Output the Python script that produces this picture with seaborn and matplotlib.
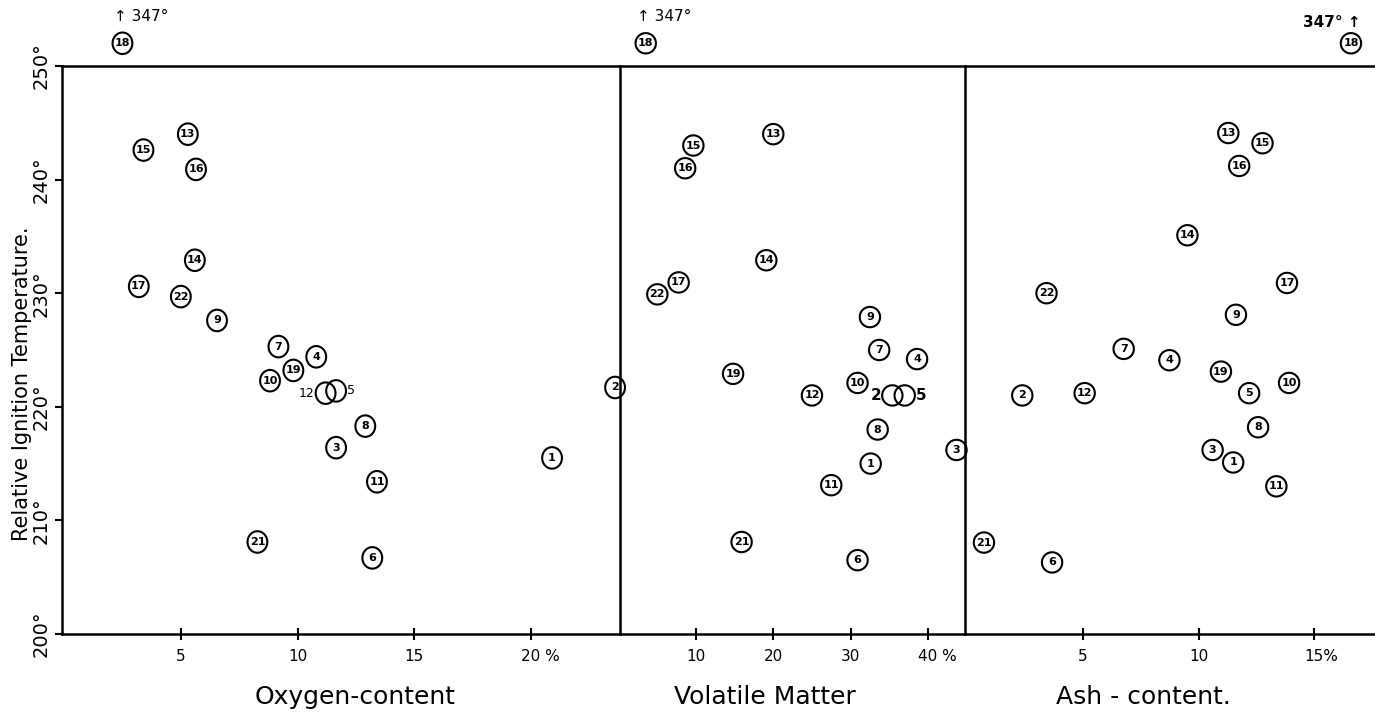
import numpy as np
import pandas as pd
import matplotlib
matplotlib.use("Agg")
import matplotlib.pyplot as plt
import matplotlib.transforms as mtransforms
import seaborn as sns

# ---------------- data ----------------
coal = [1, 2, 3, 4, 5, 6, 7, 8, 9, 10, 11, 12, 13, 14, 15, 16, 17, 18, 19, 21, 22]

oxygen = [20.9, 23.6, 11.65, 10.8, 11.65, 13.2, 9.18, 12.9, 6.55, 8.82, 13.4,
          11.2, 5.3, 5.6, 3.4, 5.65, 3.2, 2.5, 9.82, 8.28, 5.0]
temp_oxygen = [215.5, 221.7, 216.4, 224.4, 221.4, 206.7, 225.3, 218.3, 227.6, 222.3, 213.4,
               221.2, 244.0, 232.9, 242.6, 240.9, 230.6, 347, 223.2, 208.1, 229.7]

volatile = [32.6, 35.4, 43.7, 38.6, 37.0, 30.9, 33.7, 33.5, 32.5, 30.9, 27.5,
            25.0, 20.0, 19.1, 9.66, 8.6, 7.76, 3.5, 14.8, 15.9, 5.0]
temp_volatile = [215.0, 221.0, 216.2, 224.2, 221.0, 206.5, 225.0, 218.0, 227.9, 222.1, 213.1,
                 221.0, 244.0, 232.9, 243.0, 241.0, 230.95, 347, 222.9, 208.1, 229.9]

ash = [11.5, 2.37, 10.61, 8.74, 12.19, 3.66, 6.76, 12.58, 11.62, 13.92, 13.37,
       5.07, 11.29, 9.52, 12.77, 11.76, 13.83, 16.6, 10.97, 0.71, 3.42]
temp_ash = [215.1, 221.0, 216.2, 224.1, 221.2, 206.3, 225.1, 218.2, 228.1, 222.1, 213.0,
            221.2, 244.1, 235.1, 243.2, 241.2, 230.9, 347, 223.1, 208.05, 230.0]

y_ticks = [200, 210, 220, 230, 240, 250]
y_ticklabels = ["200°", "210°", "220°", "230°", "240°", "250°"]
oxygen_ticks = [5, 10, 15, 20]
oxygen_ticklabels = ["5", "10", "15", "20 %"]
volatile_ticks = [10, 20, 30, 40]
volatile_ticklabels = ["10", "20", "30", "40 %"]
ash_ticks = [5, 10, 15]
ash_ticklabels = ["5", "10", "15%"]
panel_titles = ["Oxygen-content", "Volatile Matter", "Ash - content."]
y_title = "Relative Ignition Temperature."

# ---------------- layout / style ----------------
W, H = 1375, 712
Y_TOP, Y_BOT = 66, 634
YLIM = (200, 250)
OFFSCALE_Y = 252.0          # where off-scale (>250) points are drawn
LW = 1.8

sns.set_style("white")
plt.rcParams["font.family"] = ["DejaVu Sans"]
plt.rcParams["axes.edgecolor"] = "black"
plt.rcParams["text.color"] = "black"
plt.rcParams["xtick.color"] = "black"
plt.rcParams["ytick.color"] = "black"
plt.rcParams["axes.labelcolor"] = "black"

fig = plt.figure(figsize=(W / 100, H / 100), dpi=100)


def rect(x0, x1):
    return [x0 / W, 1 - Y_BOT / H, (x1 - x0) / W, (Y_BOT - Y_TOP) / H]


def ellipse_marker(aspect):
    th = np.linspace(0, 2 * np.pi, 73)
    return np.column_stack([aspect * np.cos(th), np.sin(th)])


panels = [
    dict(x=oxygen, t=temp_oxygen, ticks=oxygen_ticks, labels=oxygen_ticklabels,
         rect=rect(62, 620), xlim=(-0.09, 23.81), aspect=0.92, s=240,
         outside={12: ("left", 9, "normal"), 5: ("right", 9, "normal")},
         off="left", title_x=355, left=True, right=True),
    dict(x=volatile, t=temp_volatile, ticks=volatile_ticks, labels=volatile_ticklabels,
         rect=rect(620, 965), xlim=(0.17, 44.8), aspect=1.0, s=215,
         outside={2: ("left", 11, "bold"), 5: ("right", 11, "bold")},
         off="left", title_x=765, left=False, right=True),
    dict(x=ash, t=temp_ash, ticks=ash_ticks, labels=ash_ticklabels,
         rect=rect(965, 1375), xlim=(-0.11, 17.64), aspect=1.0, s=215,
         outside={}, off="right", title_x=1143, left=False, right=False),
]

for i, p in enumerate(panels):
    ax = fig.add_axes(p["rect"])
    df = pd.DataFrame({"coal": coal, "x": p["x"], "temp": p["t"]})
    df["y"] = df["temp"].where(df["temp"] <= YLIM[1], OFFSCALE_Y)

    sns.scatterplot(data=df, x="x", y="y", ax=ax, marker=ellipse_marker(p["aspect"]),
                    s=p["s"], facecolor="none", edgecolor="black", linewidth=1.5,
                    clip_on=False, zorder=3, legend=False)

    for _, r in df.iterrows():
        c = int(r["coal"])
        if c in p["outside"]:
            side, fs, fw = p["outside"][c]
            dx = -8 if side == "left" else 8
            ax.annotate(str(c), xy=(r["x"], r["y"]), xytext=(dx, 0),
                        textcoords="offset points", ha="right" if side == "left" else "left",
                        va="center", fontsize=fs, fontweight=fw, annotation_clip=False)
        else:
            ax.text(r["x"], r["y"], str(c), ha="center", va="center", fontsize=8,
                    fontweight="bold", clip_on=False, zorder=4)
        if r["temp"] > YLIM[1]:
            if p["off"] == "left":
                ax.annotate(f"\u2191 {r['temp']:.0f}°", xy=(r["x"], r["y"]), xytext=(-6, 19),
                            textcoords="offset points", ha="left", va="center",
                            fontsize=11, annotation_clip=False)
            else:
                ax.annotate(f"{r['temp']:.0f}° \u2191", xy=(r["x"], r["y"]), xytext=(7, 15),
                            textcoords="offset points", ha="right", va="center",
                            fontsize=11, fontweight="bold", annotation_clip=False)

    ax.set_xlim(*p["xlim"])
    ax.set_ylim(*YLIM)
    ax.set_xlabel("")
    ax.set_ylabel("")
    ax.set_xticks(p["ticks"])
    ax.set_xticklabels(p["labels"])
    ax.tick_params(axis="x", direction="inout", length=8, width=1.5, pad=7,
                   labelsize=11, color="black", labelcolor="black", bottom=True)
    if i == 0:
        ax.set_yticks(y_ticks)
        ax.set_yticklabels(y_ticklabels, rotation=90, va="center")
        ax.tick_params(axis="y", direction="out", length=5, width=1.5, pad=3,
                       labelsize=14, left=True, color="black", labelcolor="black")
    else:
        ax.set_yticks([])

    for sp in ax.spines.values():
        sp.set_linewidth(LW)
        sp.set_color("black")
    ax.spines["left"].set_visible(p["left"])
    ax.spines["right"].set_visible(p["right"])
    ax.patch.set_alpha(0)

    # keep the number centred on the tick when a '%' sign follows it
    for lbl, txt in zip(ax.get_xticklabels(), p["labels"]):
        if "%" in txt:
            num = txt.replace("%", "").strip()
            shift = 0.636 * 11 * len(num) / 2
            lbl.set_horizontalalignment("left")
            lbl.set_transform(lbl.get_transform() +
                              mtransforms.ScaledTranslation(-shift / 72, 0, fig.dpi_scale_trans))

    fig.text(p["title_x"] / W, 1 - 697 / H, panel_titles[i], ha="center", va="center",
             fontsize=18)

fig.text(22 / W, 1 - 384 / H, y_title, rotation=90, ha="center", va="center", fontsize=15)

fig.savefig("out.png", dpi=100)
